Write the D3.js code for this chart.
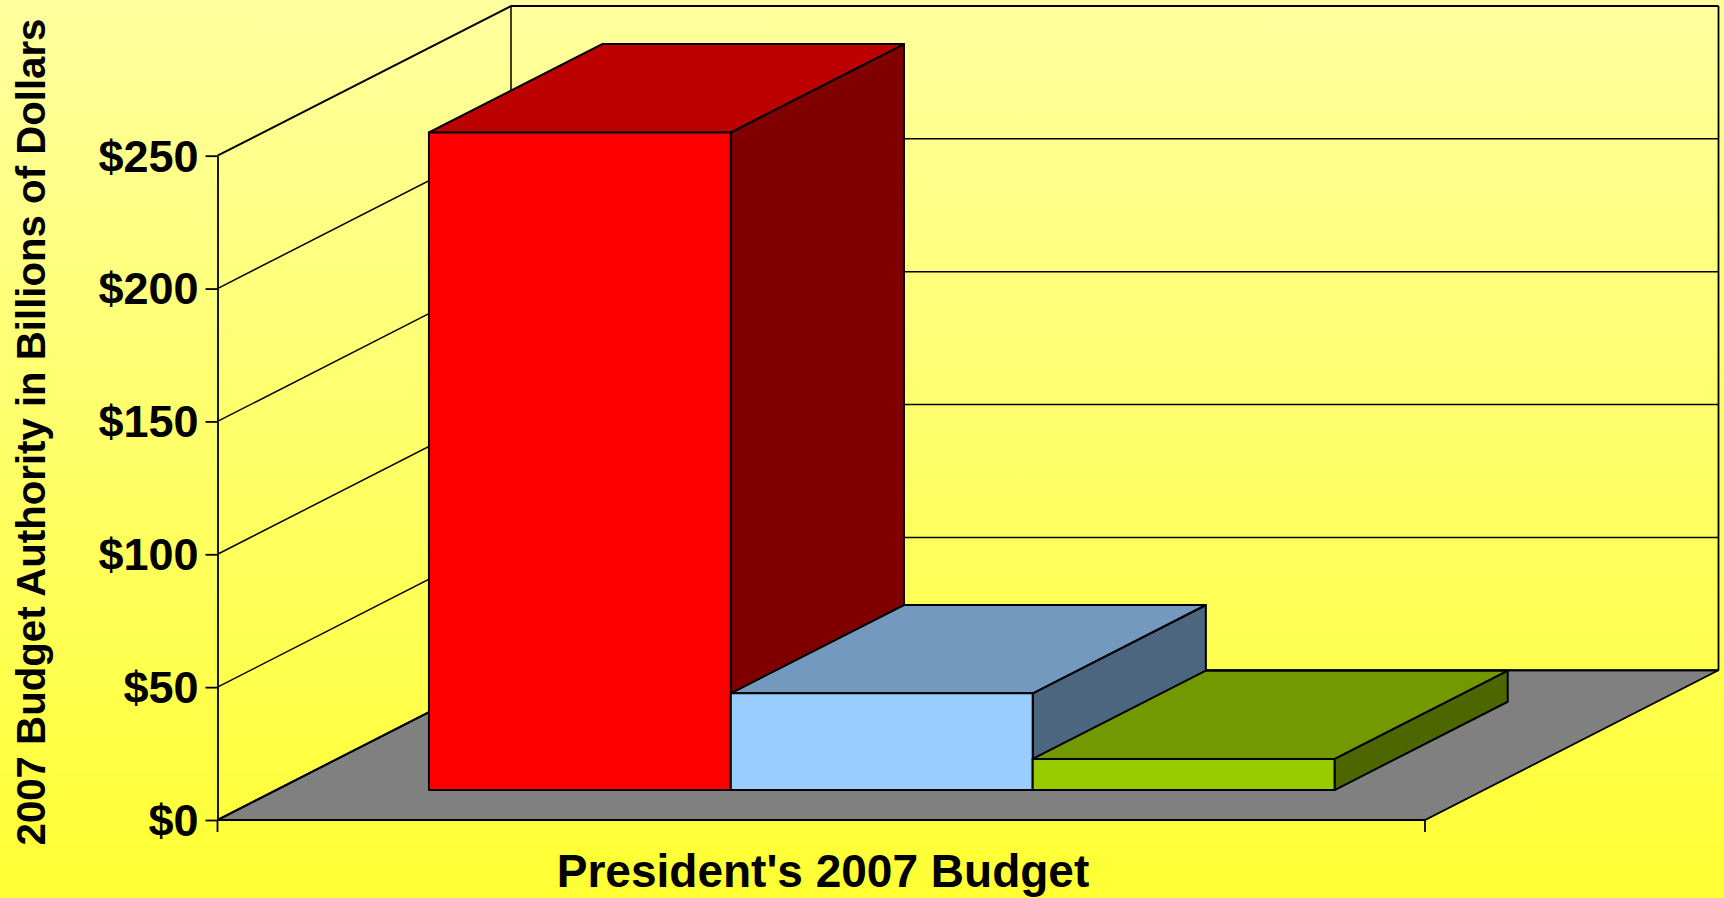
<!DOCTYPE html>
<html>
<head>
<meta charset="utf-8">
<script src="https://cdn.jsdelivr.net/npm/d3@7"></script>
<style>
  html, body { margin: 0; padding: 0; }
  svg { display: block; }
  text { font-family: "Liberation Sans", Arial, sans-serif; font-weight: bold; fill: #000; }
</style>
</head>
<body>
<svg id="chart"></svg>
<script>
const categories = ["Red bar", "Blue bar", "Green bar"];
const values = [247.5, 36.4, 11.7];
const tickValues = [0, 50, 100, 150, 200, 250];
const frontColors = ["#ff0000", "#99ccff", "#99cc00"];
const topColors = ["#bd0000", "#7399bf", "#739900"];
const sideColors = ["#800000", "#4d6680", "#4d6600"];

const width = 1724;
const height = 898;

const axisX = 217.5;
const floorRight = 1425;
const floorY = 820;
const wallTopY = 155.7;

// how far the back of the box is shifted from the front
const depthX = 293.5;
const depthY = 149.7;

// the bars sit between these fractions of the depth
const barFront = 0.2;
const barBack = 0.79;

const x = d3.scaleBand().domain(categories).range([axisX + 1.8, floorRight + 1.8]).paddingInner(0).paddingOuter(0.5);
const y = d3.scaleLinear().domain([0, 250]).range([floorY, wallTopY]);

// 3d point to the screen: px and value on the front plane, d in 0..1 going back
const project = (px, v, d) => [px + d * depthX, y(v) - d * depthY];
const poly = (pts) => pts.map((p) => p.join(",")).join(" ");

const svg = d3.select("#chart").attr("width", width).attr("height", height);

const grad = svg.append("defs").append("linearGradient")
  .attr("id", "bg").attr("x1", 0).attr("y1", 0).attr("x2", 0).attr("y2", 1);
grad.append("stop").attr("offset", "0%").attr("stop-color", "#ffff9f");
grad.append("stop").attr("offset", "100%").attr("stop-color", "#ffff33");

svg.append("rect").attr("width", width).attr("height", height).attr("fill", "url(#bg)");

// floor
svg.append("polygon")
  .attr("points", poly([
    project(axisX, 0, 0), project(floorRight, 0, 0),
    project(floorRight, 0, 1), project(axisX, 0, 1),
  ]))
  .attr("fill", "#808080")
  .attr("stroke", "#000")
  .attr("stroke-width", 1.8);

// gridlines on the side wall and the back wall
const grid = svg.append("g").attr("fill", "none").attr("stroke", "#000");
grid.selectAll("polyline")
  .data(tickValues)
  .join("polyline")
  .attr("points", (d) => poly([project(axisX, d, 0), project(axisX, d, 1), project(floorRight, d, 1)]))
  .attr("stroke-width", (d) => (d === 250 || d === 0 ? 2 : 1.5));
grid.append("line")
  .attr("x1", project(axisX, 0, 1)[0]).attr("y1", project(axisX, 0, 1)[1])
  .attr("x2", project(axisX, 250, 1)[0]).attr("y2", project(axisX, 250, 1)[1])
  .attr("stroke-width", 1.5);
grid.append("line")
  .attr("x1", project(floorRight, 0, 1)[0]).attr("y1", project(floorRight, 0, 1)[1])
  .attr("x2", project(floorRight, 250, 1)[0]).attr("y2", project(floorRight, 250, 1)[1])
  .attr("stroke-width", 1.8);

// value axis
const yAxis = d3.axisLeft(y)
  .tickValues(tickValues)
  .tickFormat((d) => "$" + d)
  .tickSize(12)
  .tickSizeOuter(0)
  .tickPadding(7);
const axisG = svg.append("g").attr("transform", `translate(${axisX},0)`).call(yAxis);
axisG.selectAll("text").style("font-size", "45px").attr("dy", "0.34em");
axisG.selectAll("line, path").attr("stroke", "#000").attr("stroke-width", 1.8);

// ticks below the floor at both ends
svg.selectAll("line.end-tick")
  .data([axisX, floorRight])
  .join("line")
  .attr("class", "end-tick")
  .attr("x1", (d) => d).attr("x2", (d) => d)
  .attr("y1", floorY).attr("y2", floorY + 12)
  .attr("stroke", "#000")
  .attr("stroke-width", 1.8);

// bars, left to right so each one covers the side of the one before
const bars = svg.selectAll("g.bar")
  .data(categories)
  .join("g")
  .attr("class", "bar")
  .attr("stroke", "#000")
  .attr("stroke-width", 2)
  .attr("stroke-linejoin", "round");

bars.each(function (c, i) {
  const g = d3.select(this);
  const x0 = x(c);
  const x1 = x0 + x.bandwidth();
  const v = values[i];
  g.append("polygon")
    .attr("fill", sideColors[i])
    .attr("points", poly([project(x1, 0, barFront), project(x1, 0, barBack), project(x1, v, barBack), project(x1, v, barFront)]));
  g.append("polygon")
    .attr("fill", topColors[i])
    .attr("points", poly([project(x0, v, barFront), project(x1, v, barFront), project(x1, v, barBack), project(x0, v, barBack)]));
  g.append("polygon")
    .attr("fill", frontColors[i])
    .attr("points", poly([project(x0, 0, barFront), project(x1, 0, barFront), project(x1, v, barFront), project(x0, v, barFront)]));
});

svg.append("text")
  .attr("x", 823)
  .attr("y", 886.5)
  .attr("text-anchor", "middle")
  .style("font-size", "46px")
  .text("President's 2007 Budget");

svg.append("text")
  .attr("transform", "translate(45,432) rotate(-90)")
  .attr("text-anchor", "middle")
  .style("font-size", "40.2px")
  .text("2007 Budget Authority in Billions of Dollars");
</script>
</body>
</html>
